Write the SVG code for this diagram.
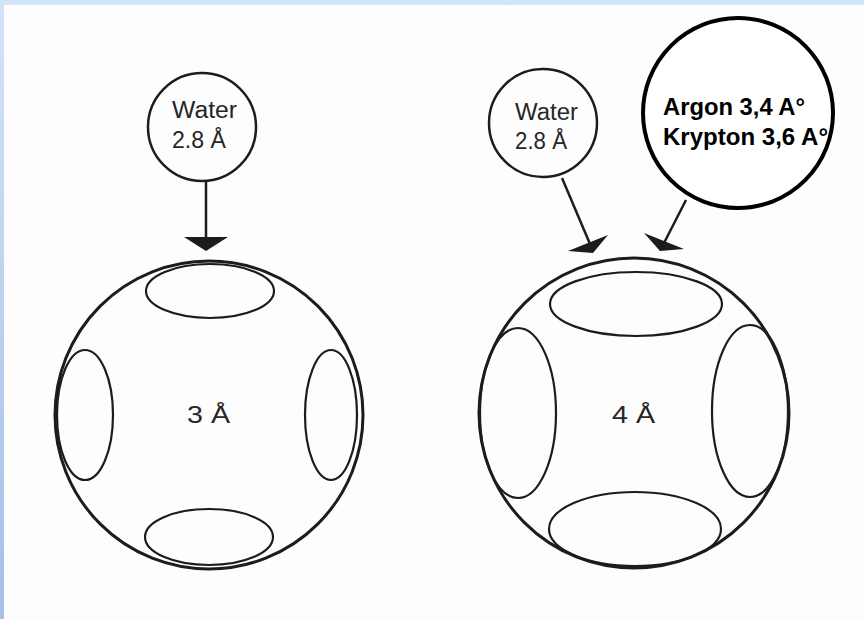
<svg xmlns="http://www.w3.org/2000/svg" width="864" height="619" viewBox="0 0 864 619">
  <defs>
    <linearGradient id="frame" x1="0" y1="0" x2="0" y2="1">
      <stop offset="0" stop-color="#d2e4f8"/>
      <stop offset="1" stop-color="#a7bee8"/>
    </linearGradient>
    <style>
      .ln { fill: none; stroke: #1c1c1c; }
      .small { stroke-width: 2.5; }
      .cage { stroke-width: 3; }
      .hole { stroke-width: 2.2; }
      .lbl { font-family: "Liberation Sans", Arial, sans-serif; font-size: 23px; fill: #262626; }
      .bold { font-family: "Liberation Sans", Arial, sans-serif; font-weight: bold; font-size: 23px; fill: #000; }
      .head { fill: #1c1c1c; stroke: none; }
    </style>
  </defs>

  <rect x="0" y="0" width="864" height="619" fill="url(#frame)"/>
  <rect x="4" y="5" width="860" height="614" fill="#fdfdfd"/>

  <g id="connectors">
    <line class="ln small" x1="206" y1="182" x2="206" y2="241"/>
    <polygon class="head" points="184,237 228,237 206,251"/>
    <line class="ln small" x1="562" y1="178" x2="590" y2="244"/>
    <polygon class="head" points="568,251 608,235 593,253"/>
    <line class="ln small" x1="686" y1="200" x2="664" y2="243"/>
    <polygon class="head" points="644,233 684,249 660,251"/>
  </g>

  <g id="water-left">
    <circle class="ln small" cx="202" cy="127" r="54"/>
    <text class="lbl" x="172" y="118" textLength="65" lengthAdjust="spacingAndGlyphs">Water</text>
    <text class="lbl" x="172" y="148" textLength="54" lengthAdjust="spacingAndGlyphs">2.8 Å</text>
  </g>

  <g id="cage-3A">
    <circle class="ln cage" cx="209" cy="415" r="154"/>
    <ellipse class="ln hole" cx="210" cy="291" rx="64" ry="27"/>
    <ellipse class="ln hole" cx="209" cy="537" rx="64" ry="28"/>
    <ellipse class="ln hole" cx="85" cy="415" rx="28" ry="65"/>
    <ellipse class="ln hole" cx="331" cy="415" rx="26" ry="65"/>
    <text class="lbl" x="187" y="423" textLength="43" lengthAdjust="spacingAndGlyphs">3 Å</text>
  </g>

  <g id="water-right">
    <circle class="ln small" cx="543" cy="123" r="54"/>
    <text class="lbl" x="515" y="120" textLength="63" lengthAdjust="spacingAndGlyphs">Water</text>
    <text class="lbl" x="515" y="149" textLength="52" lengthAdjust="spacingAndGlyphs">2.8 Å</text>
  </g>

  <g id="argon-krypton">
    <circle cx="738" cy="113" r="95" fill="#ffffff" stroke="#000" stroke-width="4"/>
    <text class="bold" x="663" y="115" textLength="142" lengthAdjust="spacingAndGlyphs">Argon 3,4 A°</text>
    <text class="bold" x="663" y="145" textLength="165" lengthAdjust="spacingAndGlyphs">Krypton 3,6 A°</text>
  </g>

  <g id="cage-4A">
    <circle class="ln cage" cx="634" cy="413" r="155"/>
    <ellipse class="ln hole" cx="636" cy="304" rx="86" ry="32"/>
    <ellipse class="ln hole" cx="635" cy="529" rx="86" ry="37"/>
    <ellipse class="ln hole" cx="518" cy="413" rx="38" ry="85"/>
    <ellipse class="ln hole" cx="750" cy="411" rx="38" ry="86"/>
    <text class="lbl" x="612" y="423" textLength="43" lengthAdjust="spacingAndGlyphs">4 Å</text>
  </g>
</svg>
